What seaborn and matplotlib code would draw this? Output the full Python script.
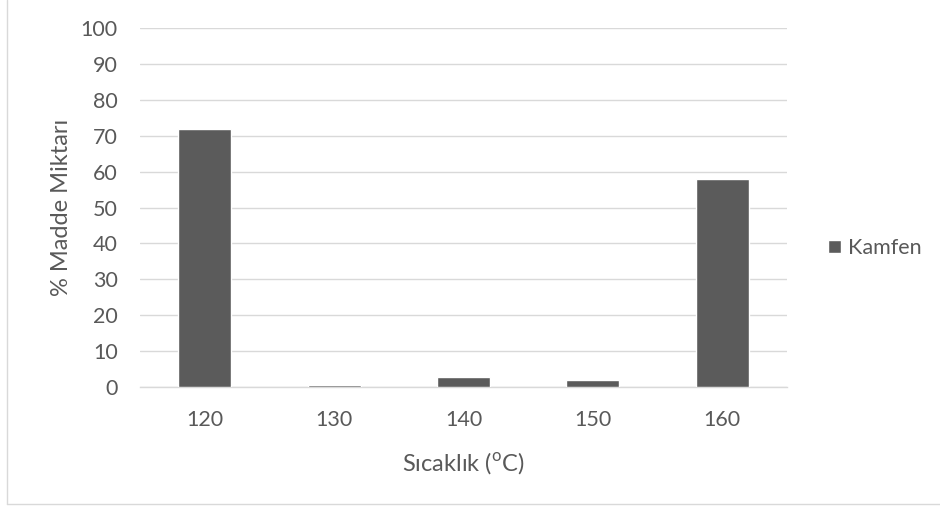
import matplotlib
matplotlib.use("Agg")
import matplotlib.pyplot as plt
import seaborn as sns
import pandas as pd
from matplotlib.lines import Line2D

categories = ["120", "130", "140", "150", "160"]
kamfen = [71.8, 0.5, 2.8, 2.0, 57.8]
yticks = [0, 10, 20, 30, 40, 50, 60, 70, 80, 90, 100]
series_name = "Kamfen"

sns.set_theme(style="white")
plt.rcParams['font.family'] = ['Lato', 'DejaVu Sans']
txt = "#595959"

df = pd.DataFrame({"cat": categories, "val": kamfen})

fig = plt.figure(figsize=(9.4, 5.08), dpi=100)
L, R, B, T = 140, 787, 387, 28
ax = fig.add_axes([L/940, 1-B/508, (R-L)/940, (B-T)/508])

sns.barplot(data=df, x="cat", y="val", color="#5b5b5b", saturation=1,
            width=0.41, ax=ax, label=series_name, zorder=3)
ax.set_ylim(0, 100)
ax.set_yticks(yticks)
ax.set_xlim(-0.5, 4.5)
ax.yaxis.grid(True, color="#d9d9d9", linewidth=1)
ax.set_axisbelow(True)
for s in ["top", "right", "left"]:
    ax.spines[s].set_visible(False)
ax.spines["bottom"].set_color("#d9d9d9")
ax.spines["bottom"].set_linewidth(1)
ax.spines["bottom"].set_zorder(1)
ax.tick_params(axis="both", length=0, labelsize=15.5, colors=txt)
ax.tick_params(axis="y", pad=16)
ax.tick_params(axis="x", pad=16.5)
ax.set_xlabel("Sıcaklık ($^{\\mathregular{o}}$C)", fontsize=17, color=txt)
ax.set_ylabel("% Madde Miktarı", fontsize=17, color=txt)
ax.xaxis.set_label_coords(0.5, (B-463)/(B-T))
ax.xaxis.label.set_va("center")
ax.yaxis.set_label_coords((62-L)/(R-L), 0.5)
ax.yaxis.label.set_va("center")

leg = ax.legend(loc="center left", bbox_to_anchor=(809/940, 1-248/508),
                bbox_transform=fig.transFigure, frameon=False, fontsize=15.5,
                handlelength=0.6, handleheight=0.6, handletextpad=0.3)
for t in leg.get_texts():
    t.set_color(txt)

# outer chart border
fig.add_artist(Line2D([7/940, 7/940], [1-504/508, 1], transform=fig.transFigure, color="#d9d9d9", lw=1))
fig.add_artist(Line2D([7/940, 1], [1-504/508, 1-504/508], transform=fig.transFigure, color="#d9d9d9", lw=1))

fig.savefig("out.png", dpi=100)
